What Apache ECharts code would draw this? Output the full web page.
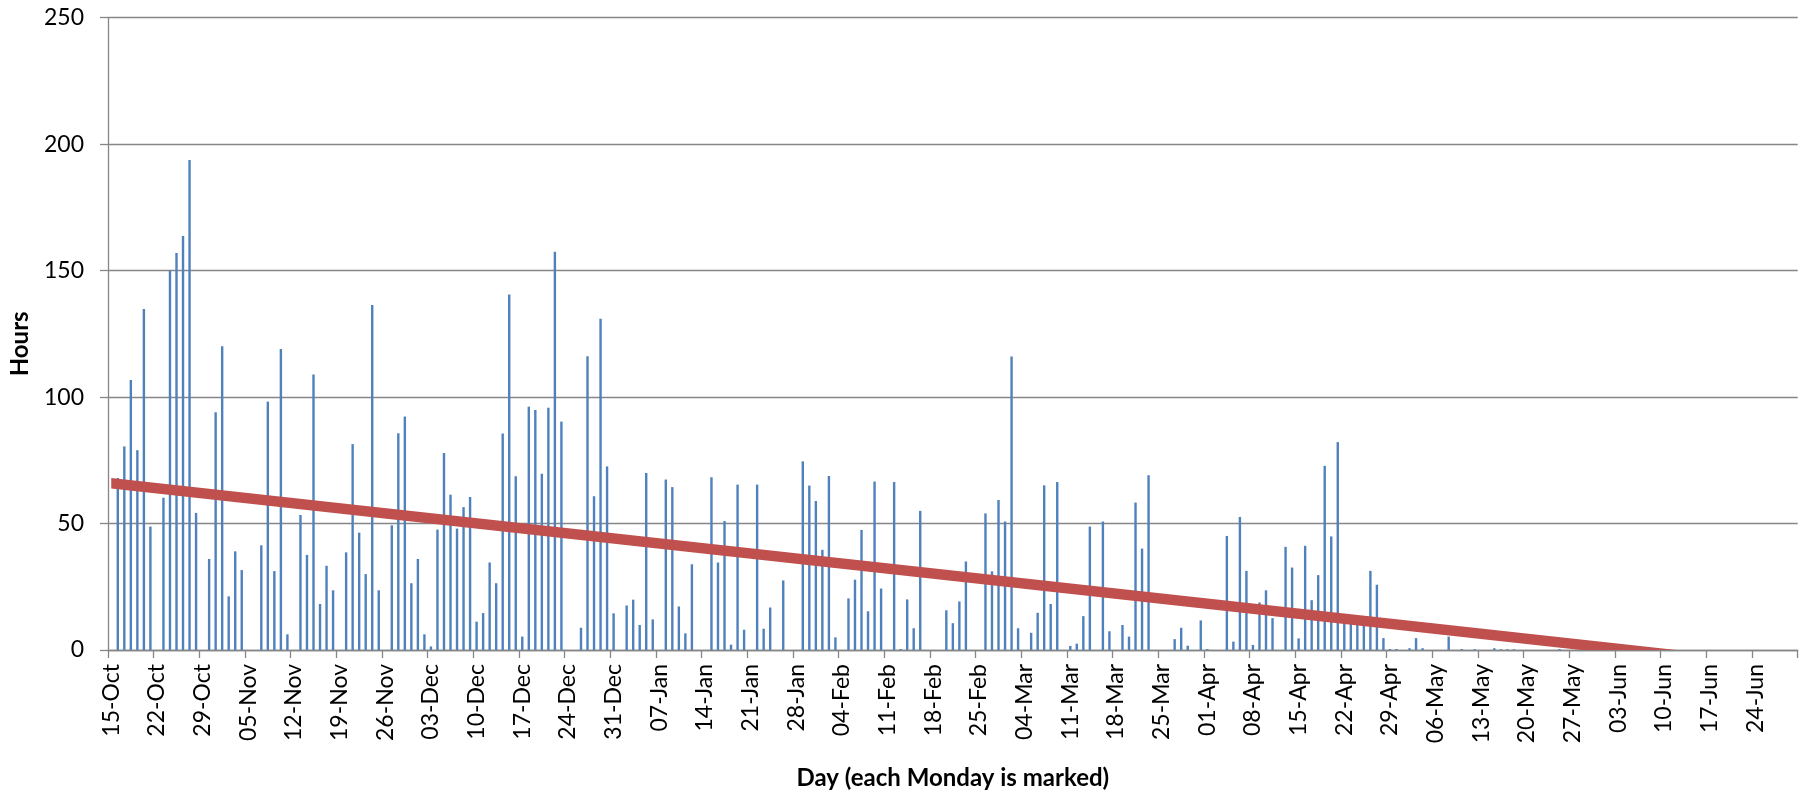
<!DOCTYPE html>
<html>
<head>
<meta charset="utf-8">
<script src="https://cdn.jsdelivr.net/npm/echarts@6/dist/echarts.min.js"></script>
<style>
html,body{margin:0;padding:0;background:#ffffff;}
#chart{width:1808px;height:795px;}
</style>
</head>
<body>
<div id="chart"></div>
<script>
// ---- data ----
const firstDay = { year: 2012, month: 9, day: 15 };   // 15-Oct-2012 (a Monday)
const dayCount = 259;                                   // through 30-Jun-2013
const monthNames = ['Jan','Feb','Mar','Apr','May','Jun','Jul','Aug','Sep','Oct','Nov','Dec'];

const days = [];
for (let i = 0; i < dayCount; i++) {
  const d = new Date(Date.UTC(firstDay.year, firstDay.month, firstDay.day + i));
  days.push(String(d.getUTCDate()).padStart(2, '0') + '-' + monthNames[d.getUTCMonth()]);
}

const hours = [
  0, 68.0, 80.5, 106.8, 79.0, 134.8, 48.8,
  0, 60.2, 150.0, 157.0, 163.7, 193.7, 54.2,
  0, 36.0, 94.0, 120.1, 21.2, 39.0, 31.6,
  0, 0, 41.4, 98.2, 31.2, 119.0, 6.2,
  0, 53.4, 37.6, 108.9, 18.2, 33.3, 23.6,
  0, 38.6, 81.4, 46.4, 30.0, 136.4, 23.6,
  0, 49.3, 85.7, 92.3, 26.4, 36.0, 6.2,
  1.4, 47.6, 77.9, 61.4, 48.0, 56.5, 60.5,
  11.2, 14.6, 34.6, 26.4, 85.6, 140.6, 68.7,
  5.3, 96.2, 94.9, 69.7, 95.8, 157.5, 90.3,
  0, 0, 8.8, 116.1, 60.8, 131.0, 72.6,
  14.5, 0, 17.6, 19.9, 9.9, 70.0, 12.1,
  0, 67.4, 64.4, 17.2, 6.6, 33.9, 0,
  0, 68.3, 34.6, 51.0, 2.1, 65.4, 8.0,
  0, 65.4, 8.4, 16.8, 0, 27.5, 0,
  0, 74.6, 65.0, 58.9, 39.6, 68.8, 5.0,
  0, 20.4, 27.8, 47.5, 15.3, 66.6, 24.3,
  0, 66.4, 0.4, 20.0, 8.6, 55.0, 0,
  0, 0, 15.7, 10.6, 19.2, 35.0, 0,
  0, 54.0, 31.1, 59.3, 50.8, 116.0, 8.6,
  0, 6.8, 14.7, 65.1, 18.2, 66.4, 0,
  1.6, 2.5, 13.4, 48.8, 0, 50.8, 7.4,
  0, 9.9, 5.3, 58.3, 40.1, 69.1, 0,
  0, 0, 4.3, 8.8, 1.7, 0, 11.7,
  0.4, 0, 0, 45.1, 3.3, 52.6, 31.3,
  2.0, 18.8, 23.6, 12.6, 0, 40.8, 32.6,
  4.6, 41.2, 19.7, 29.6, 72.8, 44.9, 82.2,
  11, 11, 11, 11, 31.3, 25.8, 4.7,
  0.4, 0.4, 0, 0.7, 4.7, 0.7, 0,
  0, 0, 5.3, 0, 0.4, 0, 0.3,
  0, 0, 0.7, 0.3, 0.3, 0.3, 0,
  0, 0, 0, 0, 0, 0.4, 0,
  0, 0, 0, 0, 0, 0, 0,
  0, 0, 0, 0, 0, 0, 0,
  0, 0, 0, 0, 0, 0, 0,
  0, 0, 0, 0, 0, 0, 0,
  0, 0, 0, 0, 0, 0, 0
];

// linear trend line: value read at the first and the last day
const trendStart = 65.9;
const trendEnd = -7.2;

const yMin = 0, yMax = 250, yStep = 50;
const xTitle = 'Day (each Monday is marked)';
const yTitle = 'Hours';

// ---- chart ----
const chart = echarts.init(document.getElementById('chart'), null, { renderer: 'canvas' });
const font = 'Lato, "Open Sans", sans-serif';
const gray = '#868686';
const trendBand = 4.15;   // drawn thickness of the trend line, in axis units (style)

const firstCat = days[0], lastCat = days[days.length - 1];

chart.setOption({
  animation: false,
  backgroundColor: '#ffffff',
  grid: { left: 106.7, right: 10.3, top: 17.7, bottom: 142.3, containLabel: false },
  xAxis: {
    type: 'category',
    data: days,
    boundaryGap: true,
    name: xTitle,
    nameLocation: 'middle',
    nameGap: 116,
    nameTextStyle: { fontFamily: font, fontSize: 24, fontWeight: 'bold', color: '#000' },
    axisLine: { show: true, lineStyle: { color: gray, width: 1.3 } },
    axisTick: { show: true, interval: 6, length: 8, lineStyle: { color: gray, width: 1.3 } },
    axisLabel: {
      interval: 6, rotate: 90, margin: 14,
      fontFamily: font, fontSize: 23, color: '#000'
    },
    splitLine: { show: false }
  },
  yAxis: {
    type: 'value',
    min: yMin, max: yMax, interval: yStep,
    name: yTitle,
    nameLocation: 'middle',
    nameRotate: 90,
    nameGap: 76,
    nameTextStyle: { fontFamily: font, fontSize: 24, fontWeight: 'bold', color: '#000', padding: [0, 20, 0, 0] },
    axisLine: { show: true, lineStyle: { color: gray, width: 1.3 } },
    axisTick: { show: true, length: 8, lineStyle: { color: gray, width: 1.3 } },
    axisLabel: { margin: 24, fontFamily: font, fontSize: 23, color: '#000' },
    splitLine: { show: true, lineStyle: { color: gray, width: 1.3 } }
  },
  series: [
    {
      type: 'bar',
      data: hours,
      barWidth: 2.4,
      itemStyle: { color: '#4F81BD' },
      z: 2
    },
    {
      // lower edge of the thick trend line
      type: 'line',
      stack: 'trend',
      stackStrategy: 'all',
      data: [[firstCat, trendStart - trendBand / 2], [lastCat, trendEnd - trendBand / 2]],
      symbol: 'none',
      lineStyle: { width: 0, opacity: 0 },
      silent: true,
      z: 3
    },
    {
      // band of the trend line, clipped at the plot area like Excel does
      type: 'line',
      stack: 'trend',
      stackStrategy: 'all',
      data: [[firstCat, trendBand], [lastCat, trendBand]],
      symbol: 'none',
      lineStyle: { width: 0, opacity: 0 },
      areaStyle: { color: '#C0504D', opacity: 1 },
      silent: true,
      z: 3
    }
  ]
});
</script>
</body>
</html>
